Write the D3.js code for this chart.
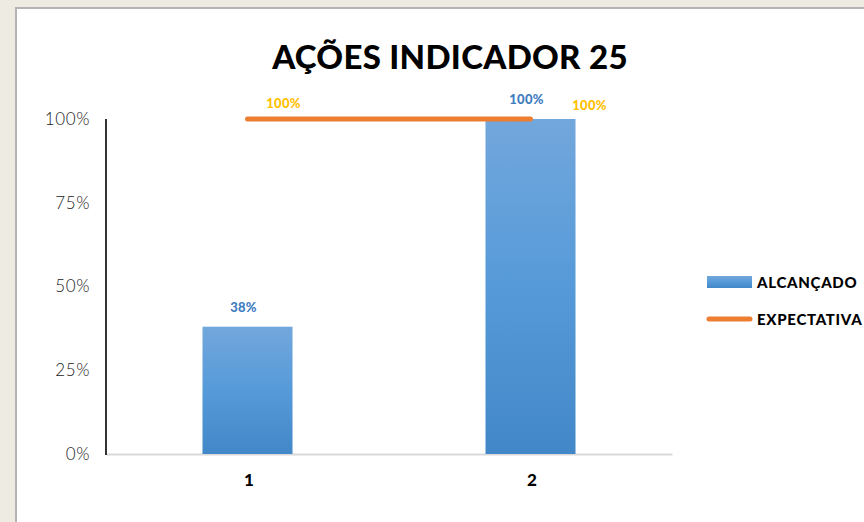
<!DOCTYPE html>
<html>
<head>
<meta charset="utf-8">
<script src="https://cdn.jsdelivr.net/npm/d3@7"></script>
<style>
  html, body { margin: 0; padding: 0; background: #eeebe3; }
  svg { display: block; }
</style>
</head>
<body>
<svg id="chart" width="864" height="522"></svg>
<script>
// Chart data
const categories = ["1", "2"];
const alcancado = [0.38, 1.00];
const expectativa = [1.00, 1.00];
const yTicks = [0, 0.25, 0.5, 0.75, 1];
const titleText = "AÇÕES INDICADOR 25";
const seriesNames = ["ALCANÇADO", "EXPECTATIVA"];

const svg = d3.select("#chart");
const W = 864, H = 522;

// page texture and white panel
const defs = svg.append("defs");
const grad = defs.append("linearGradient").attr("id", "barGrad")
  .attr("x1", 0).attr("y1", 0).attr("x2", 0).attr("y2", 1);
grad.append("stop").attr("offset", "0%").attr("stop-color", "#72a7dc");
grad.append("stop").attr("offset", "50%").attr("stop-color", "#569ad9");
grad.append("stop").attr("offset", "100%").attr("stop-color", "#4287c7");

svg.append("rect").attr("width", W).attr("height", H).attr("fill", "#eeebe3");
svg.append("rect").attr("x", 16).attr("y", 8).attr("width", W).attr("height", H)
  .attr("fill", "#ffffff").attr("stroke", "#b4b4b4").attr("stroke-width", 2);

// title
svg.append("text").attr("x", 450).attr("y", 69)
  .attr("text-anchor", "middle")
  .attr("font-family", "Lato, 'Open Sans', sans-serif")
  .attr("font-weight", 900).attr("font-size", 33)
  .attr("letter-spacing", 0.3)
  .attr("fill", "#000").text(titleText);

// scales
const x = d3.scaleBand().domain(categories).range([106, 672]).paddingInner(0).paddingOuter(0);
const y = d3.scaleLinear().domain([0, 1]).range([454, 119]);
const barW = 90;

// y axis
const yAxis = svg.append("g").attr("transform", "translate(106,0)")
  .call(d3.axisLeft(y).tickValues(yTicks).tickFormat(d3.format(".0%")).tickSize(0).tickPadding(16));
yAxis.select(".domain").attr("stroke", "none");
yAxis.selectAll("text")
  .attr("font-family", "Lato, sans-serif").attr("font-weight", 300)
  .attr("font-size", 17).attr("letter-spacing", 0.6).attr("fill", "#222");

// x axis
const xAxis = svg.append("g").attr("transform", "translate(0,454)")
  .call(d3.axisBottom(x).tickSize(0).tickPadding(20));
xAxis.select(".domain").attr("stroke", "#d9d9d9").attr("stroke-width", 2);
xAxis.selectAll("text")
  .attr("font-family", "Lato, sans-serif").attr("font-weight", 900)
  .attr("font-size", 17).attr("dx", 1.5).attr("fill", "#000");
svg.append("line").attr("x1", 106).attr("x2", 106).attr("y1", 119).attr("y2", 455)
  .attr("stroke", "#000").attr("stroke-width", 1.6);

// bars
svg.append("g").selectAll("rect").data(alcancado).join("rect")
  .attr("x", (d, i) => x(categories[i]) + x.bandwidth() / 2 - barW / 2)
  .attr("y", d => y(d))
  .attr("width", barW)
  .attr("height", d => y(0) - y(d))
  .attr("fill", "url(#barGrad)");

// bar labels
svg.append("g").selectAll("text").data(alcancado).join("text")
  .attr("x", (d, i) => x(categories[i]) + x.bandwidth() / 2 - 4)
  .attr("y", d => y(d) - 15)
  .attr("text-anchor", "middle")
  .attr("font-family", "Lato, sans-serif").attr("font-weight", 900)
  .attr("font-size", 13).attr("letter-spacing", 0.3).attr("fill", "#3e7cc0")
  .text(d => d3.format(".0%")(d));

// expectation line
const lineX = i => x(categories[i]) + x.bandwidth() / 2;
const line = d3.line().x((d, i) => lineX(i)).y(d => y(d));
svg.append("path").datum(expectativa)
  .attr("d", line)
  .attr("fill", "none").attr("stroke", "#ed7d31")
  .attr("stroke-width", 5).attr("stroke-linecap", "round");

// line labels
svg.append("g").selectAll("text").data(expectativa).join("text")
  .attr("x", (d, i) => lineX(i) + (i === 0 ? 36 : 59))
  .attr("y", (d, i) => y(d) - (i === 0 ? 11 : 9))
  .attr("text-anchor", "middle")
  .attr("font-family", "Lato, sans-serif").attr("font-weight", 900)
  .attr("font-size", 13).attr("letter-spacing", 0.3).attr("fill", "#ffc000")
  .text(d => d3.format(".0%")(d));

// legend
const lg = svg.append("g").attr("transform", "translate(707,0)");
lg.append("rect").attr("x", 0).attr("y", 276).attr("width", 45).attr("height", 12)
  .attr("fill", "url(#barGrad)");
lg.append("line").attr("x1", 2).attr("x2", 43).attr("y1", 319).attr("y2", 319)
  .attr("stroke", "#ed7d31").attr("stroke-width", 5).attr("stroke-linecap", "round");
lg.selectAll("text.leg").data(seriesNames).join("text")
  .attr("class", "leg")
  .attr("x", 50).attr("y", (d, i) => 288 + i * 37)
  .attr("font-family", "Lato, sans-serif").attr("font-weight", 900)
  .attr("font-size", 15).attr("letter-spacing", 0.7).attr("fill", "#000")
  .text(d => d);
</script>
</body>
</html>
